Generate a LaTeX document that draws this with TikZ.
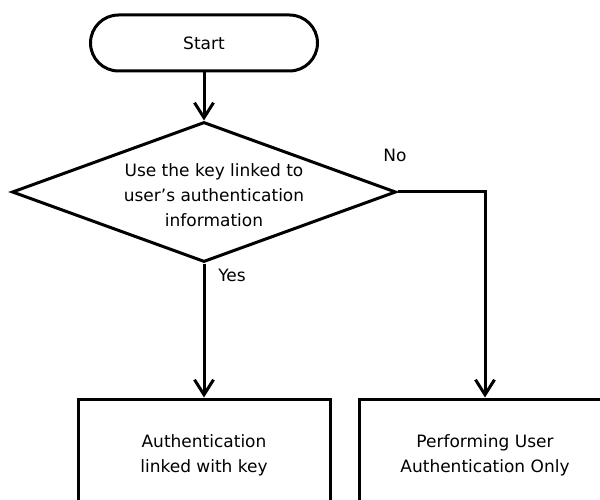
\documentclass[tikz,border=0pt]{standalone}
\usepackage{fontspec}
\setmainfont{DejaVu Sans}
\usetikzlibrary{shapes.geometric,arrows.meta}
\begin{document}
\begin{tikzpicture}[x=1pt,y=-1pt,
  line width=3pt,
  txt/.style={font=\fontsize{17}{25}\selectfont, align=center, inner sep=0pt},
  term/.style={draw, rounded corners=28pt, minimum width=227pt, minimum height=56pt},
  dia/.style={draw, diamond, minimum width=384pt, minimum height=140pt, inner sep=0pt},
  proc/.style={draw, minimum width=252pt, minimum height=112pt},
  arr/.style={-{Straight Barb[length=15pt,width=19pt]}}
]
\useasboundingbox (0,0) rectangle (600,500);
\node[term, txt] (start) at (204,43) {Start};
\node[dia] (dec) at (204,192) {};
\node[txt] (dectext) at (214,195) {Use the key linked to\\user’s authentication\\information};
\node[proc, txt] (yesbox) at (204,455) {Authentication\\linked with key};
\node[proc, txt] (nobox) at (485,455) {Performing User\\Authentication Only};
\node[txt] (yes) at (232,275) {Yes};
\node[txt] (no) at (395,155) {No};
\draw[arr] (start.south) -- (dec.north);
\draw[arr] (dec.south) -- (yesbox.north);
\draw[arr] (dec.east) -| (nobox.north);
\end{tikzpicture}
\end{document}
